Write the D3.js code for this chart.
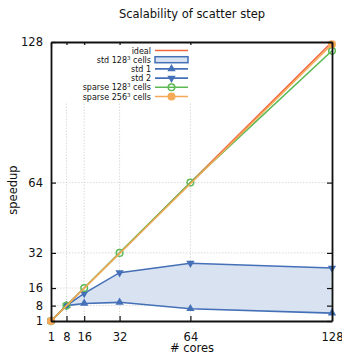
<!DOCTYPE html>
<html>
<head>
<meta charset="utf-8">
<script src="https://d3js.org/d3.v7.min.js"></script>
<style>
  body { margin: 0; background: #fff; }
  text { font-family: "DejaVu Sans", sans-serif; }
</style>
</head>
<body>
<div class="svg-container"></div>
<script>
// data
var cores = [1, 8, 16, 32, 64, 128];
var tickVals = [1, 8, 16, 32, 64, 128];
var ideal = [1, 128];
var idealCores = [1, 128];
var std1 = [1, 8, 9.0, 9.5, 6.6, 4.6];
var std2 = [1, 8, 13.6, 23.0, 27.3, 25.1];
var sparse128 = [1, 8, 16, 32, 64, 124];
var sparse256Cores = [1, 128];
var sparse256 = [1, 127];

function draw() {
  "use strict";
  var width = 342, height = 354;
  var m = {left: 51, right: 10, top: 42, bottom: 33};

  var svg = d3.select('.svg-container').append('svg')
      .attr('width', width).attr('height', height);

  var x = d3.scaleLinear().domain([1, 128]).range([m.left, width - m.right]);
  var y = d3.scaleLinear().domain([1, 128]).range([height - m.bottom, m.top]);

  var blue = '#4470b8', fillBlue = '#d9e2f0', red = '#f0653c',
      green = '#5cba55', orange = '#f6a957';

  // grid
  var grid = svg.append('g').attr('stroke', '#d0d0d0').attr('stroke-width', 0.8)
      .attr('stroke-dasharray', '1.5,1.5');
  grid.selectAll('.gx').data(tickVals.slice(1, -1)).enter().append('line')
      .attr('x1', d => x(d)).attr('x2', d => x(d))
      .attr('y1', y(1)).attr('y2', y(128));
  grid.selectAll('.gy').data(tickVals.slice(1, -1)).enter().append('line')
      .attr('y1', d => y(d)).attr('y2', d => y(d))
      .attr('x1', x(1)).attr('x2', x(128));

  // band between std 1 and std 2
  var area = d3.area()
      .x((d, i) => x(cores[i]))
      .y0((d, i) => y(std1[i]))
      .y1((d, i) => y(std2[i]));
  svg.append('path').datum(std1).attr('d', area).attr('fill', fillBlue);

  var line = d3.line().x(d => x(d[0])).y(d => y(d[1]));
  var zip = (a, b) => a.map((v, i) => [v, b[i]]);

  function series(xs, ys, color) {
    svg.append('path').datum(zip(xs, ys)).attr('d', line)
      .attr('fill', 'none').attr('stroke', color).attr('stroke-width', 1.6);
  }

  var tri = d3.symbol().type(d3.symbolTriangle).size(30);

  series(cores, std1, blue);
  svg.append('g').selectAll('path').data(zip(cores, std1)).enter().append('path')
      .attr('d', tri).attr('fill', blue)
      .attr('transform', d => 'translate(' + x(d[0]) + ',' + y(d[1]) + ')');
  series(cores, std2, blue);
  svg.append('g').selectAll('path').data(zip(cores, std2)).enter().append('path')
      .attr('d', tri).attr('fill', blue)
      .attr('transform', d => 'translate(' + x(d[0]) + ',' + y(d[1]) + ') rotate(180)');

  series(idealCores, ideal, red);

  series(cores, sparse128, green);
  svg.append('g').selectAll('circle').data(zip(cores, sparse128)).enter().append('circle')
      .attr('cx', d => x(d[0])).attr('cy', d => y(d[1])).attr('r', 3.3)
      .attr('fill', 'none').attr('stroke', green).attr('stroke-width', 1.5);

  series(sparse256Cores, sparse256, orange);
  svg.append('g').selectAll('circle').data(zip(sparse256Cores, sparse256)).enter().append('circle')
      .attr('cx', d => x(d[0])).attr('cy', d => y(d[1])).attr('r', 4)
      .attr('fill', orange);

  // frame + axes
  var xb = svg.append('g').attr('transform', 'translate(0,' + y(1) + ')')
      .call(d3.axisBottom(x).tickValues(tickVals).tickSizeInner(-5).tickSizeOuter(0).tickPadding(12));
  var xt = svg.append('g').attr('transform', 'translate(0,' + y(128) + ')')
      .call(d3.axisTop(x).tickValues(tickVals).tickSizeInner(-5).tickSizeOuter(0).tickFormat(''));
  var yl = svg.append('g').attr('transform', 'translate(' + x(1) + ',0)')
      .call(d3.axisLeft(y).tickValues(tickVals).tickSizeInner(-5).tickSizeOuter(0).tickPadding(8));
  var yr = svg.append('g').attr('transform', 'translate(' + x(128) + ',0)')
      .call(d3.axisRight(y).tickValues(tickVals).tickSizeInner(-5).tickSizeOuter(0).tickFormat(''));
  [xb, xt, yl, yr].forEach(function(g) {
    g.select('.domain').attr('stroke', '#111').attr('stroke-width', 1.8);
    g.selectAll('.tick line').attr('stroke', '#111').attr('stroke-width', 1.2);
    g.selectAll('.tick text').attr('font-size', 11.5).attr('fill', '#111')
      .attr('font-family', '"DejaVu Sans", sans-serif');
  });

  // legend
  var leg = svg.append('g');
  leg.append('rect').attr('x', 62).attr('y', 45).attr('width', 132).attr('height', 57).attr('fill', '#fff');
  var items = [
    {t: 'ideal', kind: 'line', c: red},
    {t: 'std 128', sup: true, kind: 'patch', c: blue},
    {t: 'std 1', kind: 'up', c: blue},
    {t: 'std 2', kind: 'down', c: blue},
    {t: 'sparse 128', sup: true, kind: 'open', c: green},
    {t: 'sparse 256', sup: true, kind: 'dot', c: orange}
  ];
  var x0 = 155, x1 = 188;
  items.forEach(function(it, i) {
    var cy = 50.5 + i * 9.2;
    var txt = leg.append('text').attr('x', 151).attr('y', cy + 3).attr('text-anchor', 'end')
        .attr('font-size', 8).attr('fill', '#111');
    txt.append('tspan').text(it.t);
    if (it.sup) {
      txt.append('tspan').attr('dy', -3).attr('font-size', 5.5).text('3');
      txt.append('tspan').attr('dy', 3).text(' cells');
    }
    if (it.kind === 'patch') {
      leg.append('rect').attr('x', x0).attr('y', cy - 3).attr('width', x1 - x0).attr('height', 6)
        .attr('fill', fillBlue).attr('stroke', blue).attr('stroke-width', 1.5);
      return;
    }
    leg.append('line').attr('x1', x0).attr('x2', x1).attr('y1', cy).attr('y2', cy)
      .attr('stroke', it.c).attr('stroke-width', 1.6);
    var mx = (x0 + x1) / 2;
    if (it.kind === 'up' || it.kind === 'down') {
      leg.append('path').attr('d', tri).attr('fill', it.c)
        .attr('transform', 'translate(' + mx + ',' + cy + ')' + (it.kind === 'down' ? ' rotate(180)' : ''));
    } else if (it.kind === 'open') {
      leg.append('circle').attr('cx', mx).attr('cy', cy).attr('r', 3.3)
        .attr('fill', 'none').attr('stroke', it.c).attr('stroke-width', 1.5);
    } else if (it.kind === 'dot') {
      leg.append('circle').attr('cx', mx).attr('cy', cy).attr('r', 4).attr('fill', it.c);
    }
  });

  // titles
  svg.append('text').attr('x', 192).attr('y', 18).attr('text-anchor', 'middle')
    .attr('font-size', 11.5).attr('fill', '#111').text('Scalability of scatter step');
  svg.append('text').attr('x', 192).attr('y', 352).attr('text-anchor', 'middle')
    .attr('font-size', 11.5).attr('fill', '#111').text('# cores');
  svg.append('text').attr('transform', 'translate(17,190) rotate(-90)').attr('text-anchor', 'middle')
    .attr('font-size', 11.5).attr('fill', '#111').text('speedup');
}
draw();
</script>
</body>
</html>
